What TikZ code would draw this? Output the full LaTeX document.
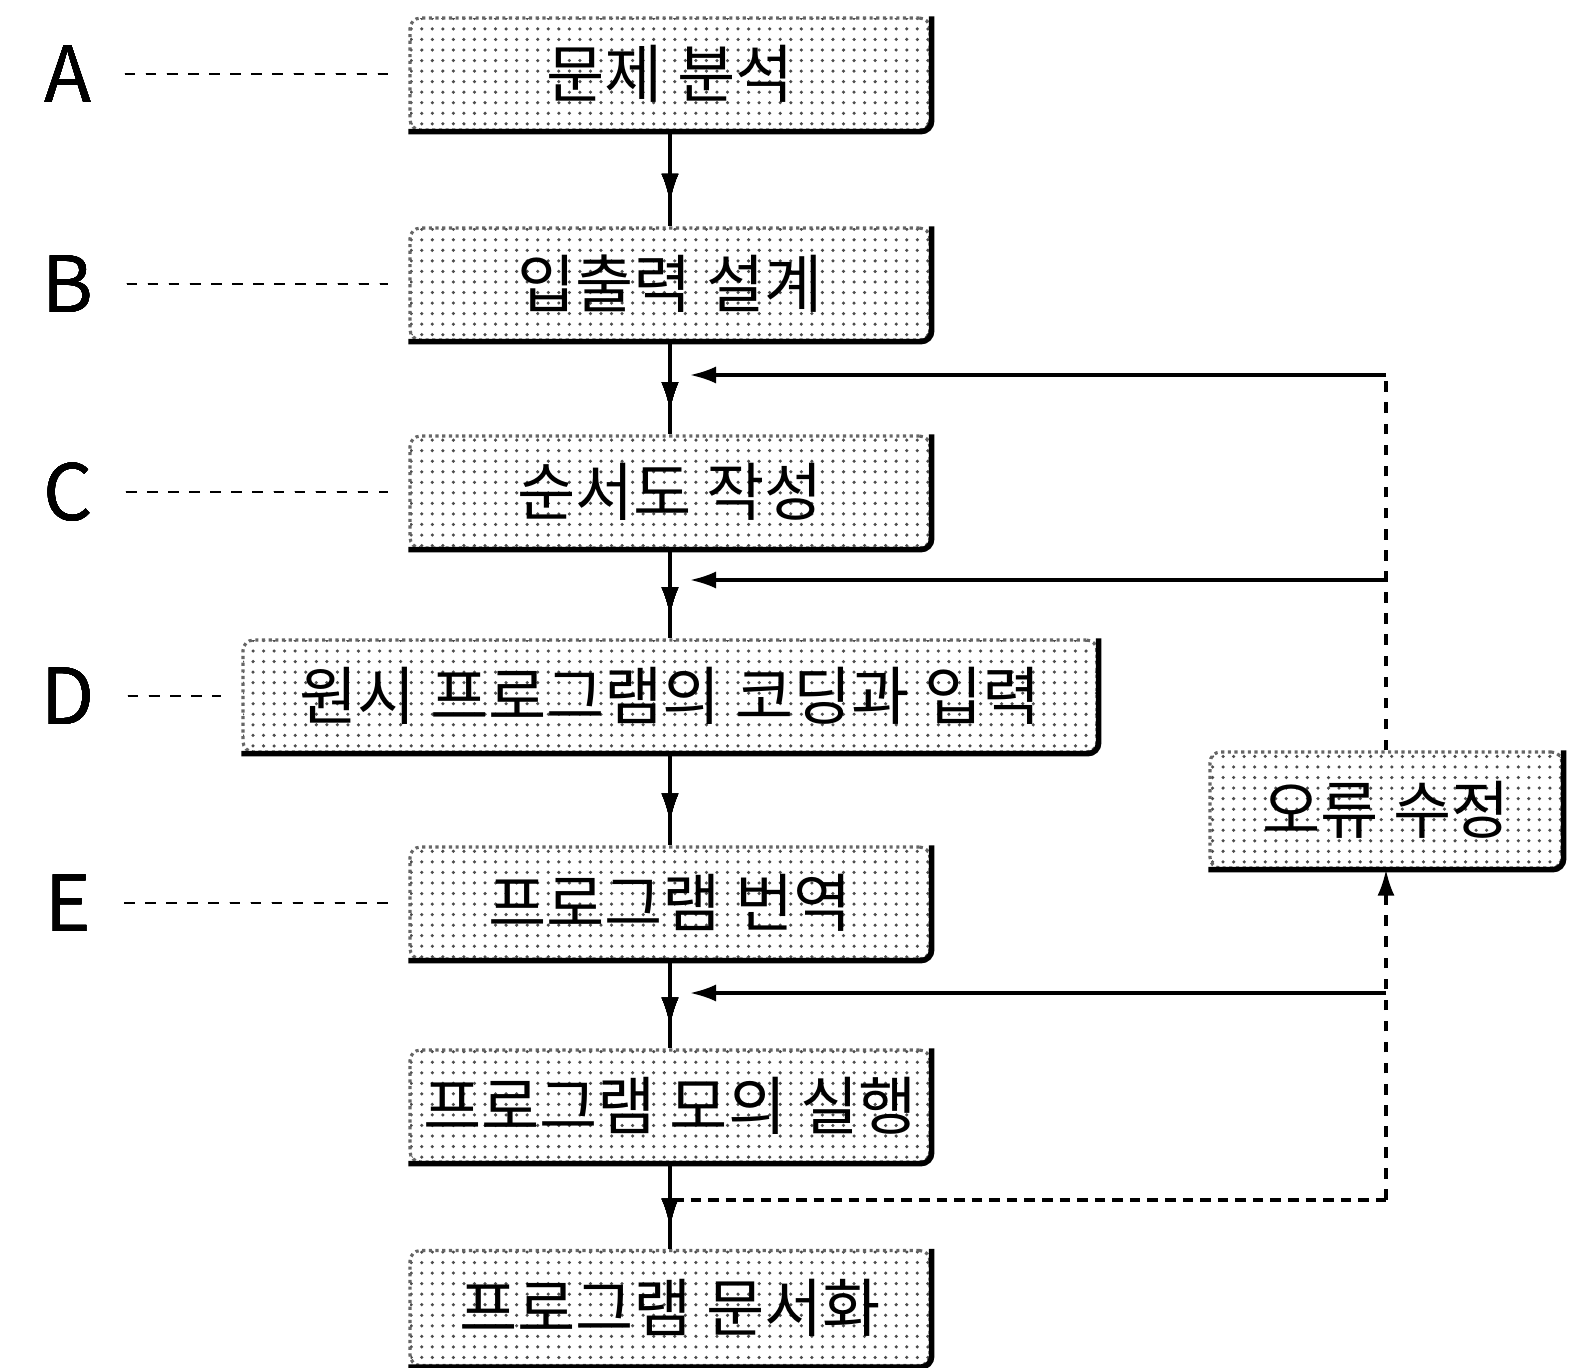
\documentclass[tikz,border=0pt]{standalone}
\usepackage{fontspec}
\usepackage{tikz}
\usetikzlibrary{patterns,arrows.meta,decorations.markings}
\newfontfamily\cjk{Noto Sans CJK KR}
\newcommand\edgeline[1]{\draw[line width=1.6pt,rounded corners=3pt] (#1.north east) -- (#1.south east) -- (#1.south west);}

\begin{document}
\begin{tikzpicture}[
  stepbox/.style={minimum width=5.2cm, minimum height=1.12cm, pattern=dots, pattern color=black!70,
    draw=black!60, densely dotted, rounded corners=3pt, font=\cjk\fontsize{18}{20}\selectfont},
  letter/.style={font=\cjk\fontsize{22}{24}\selectfont},
  midarrow/.style={decoration={markings, mark=at position 0.74 with {\arrow{Latex[length=0.28cm,width=0.17cm]}}}, postaction={decorate}},
  back/.style={-{Latex[length=0.26cm,width=0.17cm]}},
  line width=0.9pt]
\useasboundingbox (0,0) rectangle (15.72,-13.68);
% steps
\node[stepbox] (ana) at (6.70,-0.74) {문제 분석};
\node[stepbox] (io) at (6.70,-2.84) {입출력 설계};
\node[stepbox] (flow) at (6.70,-4.92) {순서도 작성};
\node[stepbox, minimum width=8.54cm] (code) at (6.70,-6.96) {원시 프로그램의 코딩과 입력};
\node[stepbox] (comp) at (6.70,-9.03) {프로그램 번역};
\node[stepbox] (run) at (6.70,-11.06) {프로그램 모의 실행};
\node[stepbox, minimum height=1.15cm] (doc) at (6.70,-13.08) {프로그램 문서화};
\node[stepbox, minimum width=3.52cm, minimum height=1.16cm] (fix) at (13.86,-8.10) {오류 수정};
\foreach \n in {ana,io,flow,code,comp,run,doc,fix} \edgeline{\n}
% letters
\foreach \l/\y/\b in {A/-0.74/ana, B/-2.84/io, C/-4.92/flow, D/-6.96/code, E/-9.03/comp} {
  \node[letter] (l\l) at (0.68,\y) {\l};
  \draw[dashed, line width=0.8pt, shorten <=0.2cm, shorten >=0.2cm] (l\l) -- (\b);
}
% main flow
\foreach \a/\b in {ana/io, io/flow, flow/code, code/comp, comp/run, run/doc}
  \draw[midarrow] (\a) -- (\b);
% feedback
\coordinate (back1) at (6.90,-3.75); \coordinate (turn1) at (13.86,-3.75);
\coordinate (back2) at (6.90,-5.80); \coordinate (turn2) at (13.86,-5.80);
\coordinate (back3) at (6.90,-9.93); \coordinate (turn3) at (13.86,-9.93);
\coordinate (out) at (6.73,-12.00); \coordinate (turn4) at (13.86,-12.00);
\draw[dashed] (fix) -- (turn1);
\draw[back] (turn1) -- (back1);
\draw[back] (turn2) -- (back2);
\draw[densely dashed] (out) -- (turn4);
\draw[dashed, back] (turn4) -- (fix);
\draw[back] (turn3) -- (back3);
\end{tikzpicture}
\end{document}
